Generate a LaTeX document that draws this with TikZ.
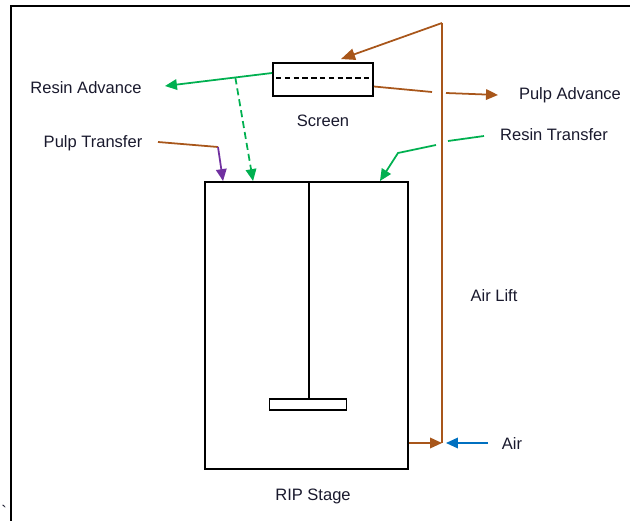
\documentclass[tikz,border=0pt]{standalone}
\usepackage{fontspec}
\setmainfont{Liberation Sans}
\usetikzlibrary{calc,arrows.meta}
\usepackage{xcolor}
\definecolor{pulpbrown}{RGB}{168,86,26}
\definecolor{resingreen}{RGB}{0,176,80}
\definecolor{transpurple}{RGB}{112,48,160}
\definecolor{airblue}{RGB}{0,112,192}
\definecolor{labeltext}{RGB}{25,25,45}

\begin{document}
\begin{tikzpicture}[x=0.02cm,y=-0.02cm,
    lbl/.style={text=labeltext,font=\fontsize{9.4}{11}\selectfont,inner sep=0pt},
    unit/.style={draw,line width=1.1pt,inner sep=0pt},
    flow/.style={line width=1pt,-{Triangle[length=6.8pt,width=6pt]}},
    pipe/.style={line width=1pt}]
    \useasboundingbox (0,0) rectangle (630,521);

    % frame
    \draw[line width=1.1pt] (11,521) -- (11,6) -- (630,6);
    \node[lbl] (tick) at (4,511) {\textasciigrave};

    % screen and RIP stage
    \node[unit,minimum width=2cm,minimum height=0.66cm] (screen) at (323,79.5) {};
    \draw[line width=1.1pt,dash pattern=on 3.1pt off 1.9pt] ($(screen.west)+(4,-1.5)$) -- ($(screen.east)+(0,-1.5)$);
    \node[unit,minimum width=4.06cm,minimum height=5.74cm] (tank) at (306.5,325.5) {};
    \node[unit,minimum width=1.54cm,minimum height=0.22cm] (imp) at (308,404.5) {};
    \draw[line width=1.2pt] ($(imp.north)+(1,0)$) -- ($(imp.north |- tank.north)+(1,0)$);

    \node[lbl] (scrlbl) at (323,121) {Screen};
    \node[lbl] (riplbl) at (313,496) {RIP Stage};
    \node[lbl] (resadv) at (86,88) {Resin Advance};
    \node[lbl] (pultr) at (93,143) {Pulp Transfer};
    \node[lbl] (pulpadv) at (570,95) {Pulp Advance};
    \node[lbl] (restr) at (554,135) {Resin Transfer};
    \node[lbl] (airlift) at (494,296) {Air Lift};
    \node[lbl] (airlbl) at (512,444) {Air};

    % resin advance and split to the stage
    \coordinate (raS) at ($(screen.west)+(0,-6.5)$);
    \coordinate (raE) at (165,86);
    \draw[flow,resingreen] (raS) -- (raE);
    \draw[flow,resingreen,dash pattern=on 4pt off 2.3pt] ($(raS)!0.343!(raE)$) -- ($(tank.north west)+(49,0)$);

    % pulp transfer
    \coordinate (ptS) at (158,142);
    \coordinate (ptK) at (218,147);
    \draw[pipe,pulpbrown] (ptS) -- (ptK);
    \draw[flow,transpurple] (ptK) -- ($(tank.north west)+(19,0)$);

    % air lift
    \coordinate (alT) at (442,23);
    \coordinate (alB) at (442,443);
    \draw[pipe,pulpbrown] (alT) -- (alB);
    \draw[pipe,pulpbrown,-{Triangle[length=8pt,width=6.5pt]}] (alT) -- ($(screen.north)+(18,-3)$);
    \draw[flow,pulpbrown] (tank.east |- alB) -- (alB);
    \coordinate (airS) at (488,443);
    \draw[flow,airblue] (airS) -- ($(alB)+(4,0)$);

    % pulp advance, broken where it crosses the lift
    \coordinate (paK) at (432,92);
    \draw[pipe,pulpbrown] ($(screen.east)+(0,7)$) -- (paK);
    \draw[flow,pulpbrown] (446,93) -- (498,95);

    % resin transfer
    \coordinate (rtS) at (484,136);
    \coordinate (rtK) at (398,153);
    \draw[pipe,resingreen] (rtS) -- (448,141);
    \draw[flow,resingreen] (436,145) -- (rtK) -- ($(tank.north east)+(-29,0)$);
\end{tikzpicture}
\end{document}
